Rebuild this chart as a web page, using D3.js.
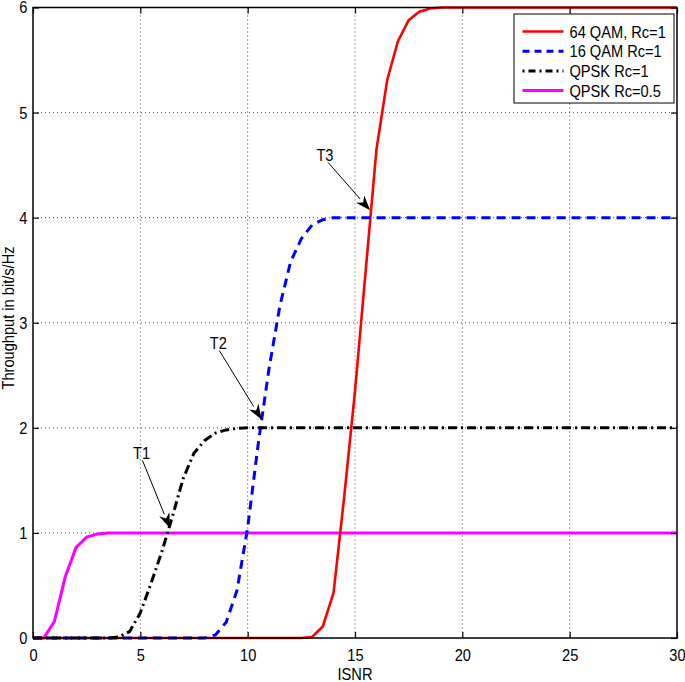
<!DOCTYPE html>
<html><head><meta charset="utf-8">
<script src="https://cdn.jsdelivr.net/npm/d3@7"></script>
<style>body{margin:0;background:#fff}svg{display:block}text{font-family:"Liberation Sans",Arial,Helvetica,sans-serif}</style>
</head><body><svg id="c" width="685" height="682"></svg>
<script>
// ---- data ----
const xTicks = [0,5,10,15,20,25,30];
const yTicks = [0,1,2,3,4,5,6];
const qam64X = [0,12.5,13,13.5,14,14.5,15,15.5,16,16.5,17,17.5,18,18.5,19,30];
const qam64Y = [0,0,0.01,0.11,0.43,1.35,2.35,3.5,4.65,5.31,5.68,5.88,5.96,5.99,6,6];
const qam16X = [0,7.5,8,8.5,9,9.5,10,10.5,11,11.5,12,12.5,13,13.5,14,30];
const qam16Y = [0,0,0.0,0.03,0.15,0.45,1.05,1.86,2.57,3.16,3.58,3.8,3.93,3.98,4,4];
const qpskX = [0,3.5,4,4.5,5,5.5,6,6.5,7,7.5,8,8.5,9,9.5,10,30];
const qpskY = [0,0,0.01,0.06,0.24,0.52,0.82,1.16,1.52,1.76,1.88,1.95,1.98,1.995,2,2];
const qpskHalfX = [0,0.5,1,1.5,2,2.5,3,3.5,4,30];
const qpskHalfY = [0,0,0.16,0.58,0.86,0.96,0.99,1,1,1];
const seriesNames = ["64 QAM, Rc=1","16 QAM Rc=1","QPSK Rc=1","QPSK Rc=0.5"];
const seriesColors = ["#ff0000","#0000ff","#000000","#ff00ff"];
const seriesDash = [null,"9,6","9,4,2,4",null];
const annLabels = ["T1","T2","T3"];
const annTextX = [5.06,8.63,13.6];
const annTextY = [1.705,2.75,4.54];
const annFromX = [5.1,8.68,13.75];
const annFromY = [1.69,2.735,4.525];
const annToX = [6.38,10.65,15.70];
const annToY = [1.045,2.08,4.07];

(function(){
const FS = 17, NARROW = 0.86;
function narrow(sel){
  sel.each(function(){
    const len = this.getComputedTextLength();
    if(len>0){ this.setAttribute("textLength", len*NARROW); this.setAttribute("lengthAdjust","spacingAndGlyphs"); }
  });
}
// ---- layout ----
const svg = d3.select("#c");
const L = 33, R = 677, T = 7.5, B = 638;
const x = d3.scaleLinear().domain([0,30]).range([L,R]);
const y = d3.scaleLinear().domain([0,6]).range([B,T]);

// grid
const g = svg.append("g");
g.selectAll(".vg").data(xTicks.slice(1,-1)).join("line")
  .attr("x1",d=>x(d)).attr("x2",d=>x(d)).attr("y1",T).attr("y2",B)
  .attr("stroke","#444").attr("stroke-width",1).attr("stroke-dasharray","1,3");
g.selectAll(".hg").data(yTicks.slice(1,-1)).join("line")
  .attr("y1",d=>y(d)).attr("y2",d=>y(d)).attr("x1",L).attr("x2",R)
  .attr("stroke","#444").attr("stroke-width",1).attr("stroke-dasharray","1,3");

// series
const series = [
  {xs:qam64X,ys:qam64Y,w:2.6},
  {xs:qam16X,ys:qam16Y,w:3},
  {xs:qpskX,ys:qpskY,w:3},
  {xs:qpskHalfX,ys:qpskHalfY,w:3}
];
const line = d3.line().x(d=>x(d[0])).y(d=>y(d[1]));
[3,0,1,2].forEach(i=>{
  const s = series[i];
  svg.append("path").datum(s.xs.map((v,k)=>[v,s.ys[k]]))
    .attr("d",line).attr("fill","none")
    .attr("stroke",seriesColors[i]).attr("stroke-width",s.w)
    .attr("stroke-dasharray",seriesDash[i]);
});

// axes
const ax = svg.append("g");
const axB = d3.axisBottom(x).tickValues(xTicks).tickSize(-6).tickPadding(11).tickFormat(d3.format("d"));
const axT = d3.axisTop(x).tickValues(xTicks).tickSize(-6).tickFormat("");
const axL = d3.axisLeft(y).tickValues(yTicks).tickSize(-6).tickPadding(5.5).tickFormat(d3.format("d"));
const axR = d3.axisRight(y).tickValues(yTicks).tickSize(-6).tickFormat("");
function style(sel){
  sel.select(".domain").remove();
  sel.selectAll(".tick line").attr("stroke","#000").attr("stroke-width",1.2);
  sel.selectAll(".tick text").attr("fill","#000").style("font-size",FS+"px").style("font-family","'Liberation Sans',Arial,sans-serif");
  narrow(sel.selectAll(".tick text"));
}
ax.append("g").attr("transform",`translate(0,${B})`).call(axB).call(style);
ax.append("g").attr("transform",`translate(0,${T})`).call(axT).call(style);
ax.append("g").attr("transform",`translate(${L},0)`).call(axL).call(style);
ax.append("g").attr("transform",`translate(${R},0)`).call(axR).call(style);
svg.append("rect").attr("x",L).attr("y",T).attr("width",R-L).attr("height",B-T)
  .attr("fill","none").attr("stroke","#000").attr("stroke-width",1.5);

// axis titles
svg.append("text").attr("x",(L+R)/2).attr("y",679.5).attr("text-anchor","middle")
  .style("font-size",FS+"px").text("ISNR").call(narrow);
svg.append("text").attr("transform",`translate(14,318) rotate(-90)`).attr("text-anchor","middle")
  .style("font-size",FS+"px").text("Throughput in bit/s/Hz").call(narrow);

// annotations
annLabels.forEach((t,i)=>{
  const x1 = x(annFromX[i]), y1 = y(annFromY[i]), x2 = x(annToX[i]), y2 = y(annToY[i]);
  const ang = Math.atan2(y2-y1,x2-x1);
  const hl = 15, hw = 5.5;
  const bx = x2 - hl*Math.cos(ang), by = y2 - hl*Math.sin(ang);
  const nx = -Math.sin(ang), ny = Math.cos(ang);
  svg.append("line").attr("x1",x1).attr("y1",y1).attr("x2",bx).attr("y2",by)
    .attr("stroke","#000").attr("stroke-width",1);
  const ix = x2 - 0.7*hl*Math.cos(ang), iy = y2 - 0.7*hl*Math.sin(ang);
  svg.append("path").attr("d",`M${x2},${y2}L${bx+nx*hw},${by+ny*hw}L${ix},${iy}L${bx-nx*hw},${by-ny*hw}Z`)
    .attr("fill","#000");
  svg.append("text").attr("x",x(annTextX[i])).attr("y",y(annTextY[i])).attr("text-anchor","middle")
    .style("font-size",FS+"px").text(t).call(narrow);
});

// legend
const lg = svg.append("g");
lg.append("rect").attr("x",514).attr("y",14).attr("width",160).attr("height",89)
  .attr("fill","#fff").attr("stroke","#000").attr("stroke-width",1);
seriesNames.forEach((n,i)=>{
  const yy = 31.5 + i*19.7;
  lg.append("line").attr("x1",522.5).attr("x2",563.5).attr("y1",yy).attr("y2",yy)
    .attr("stroke",seriesColors[i]).attr("stroke-width",i===0?2.6:3)
    .attr("stroke-dasharray",seriesDash[i]===null?null:(i===1?"7,5":"2,4,7,4"));
  lg.append("text").attr("x",569.5).attr("y",yy+6).style("font-size",FS+"px").text(n).call(narrow);
});
})();
</script></body></html>
